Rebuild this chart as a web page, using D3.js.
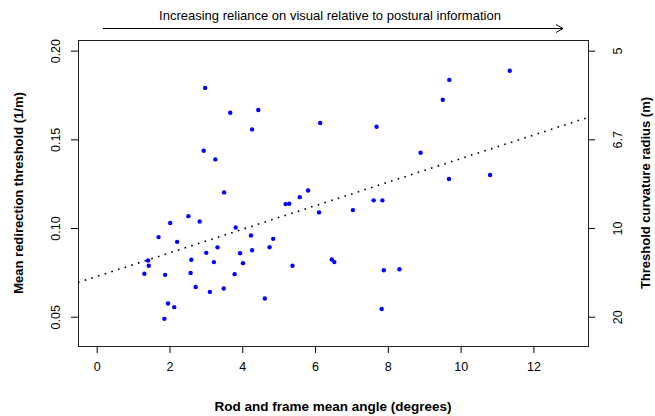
<!DOCTYPE html>
<html>
<head>
<meta charset="utf-8">
<script src="https://cdn.jsdelivr.net/npm/d3@7"></script>
<style>
  body { margin: 0; background: #fff; }
  svg { font-family: "Liberation Sans", Arial, sans-serif; }
</style>
</head>
<body>
<div class="chartContainer"></div>
<script>
// Data
var rodAngle = [2.98, 3.67, 4.44, 4.27, 2.94, 3.26, 3.50, 2.52, 2.83, 2.02,
  3.82, 1.70, 4.24, 2.21, 4.85, 4.75, 4.27, 3.01, 3.32, 3.94,
  1.41, 2.60, 1.43, 3.22, 4.02, 1.31, 1.88, 2.58, 3.79, 2.72,
  3.11, 3.49, 4.62, 1.96, 2.13, 1.86, 6.14, 7.69, 9.69, 9.51,
  8.90, 9.68, 5.81, 11.35, 10.81, 5.58, 5.19, 5.29, 6.11, 7.04,
  7.61, 7.85, 5.38, 6.46, 6.53, 7.89, 8.32, 7.83];
var threshold = [0.179, 0.165, 0.1665, 0.1556, 0.1436, 0.1387, 0.1201, 0.1067, 0.1037, 0.1028,
  0.1003, 0.0949, 0.0958, 0.0922, 0.0939, 0.0892, 0.0875, 0.0860, 0.0891, 0.0858,
  0.0817, 0.0821, 0.0787, 0.0808, 0.0802, 0.0742, 0.0736, 0.0747, 0.0740, 0.0668,
  0.0640, 0.0659, 0.0603, 0.0575, 0.0554, 0.0488, 0.1592, 0.1571, 0.1835, 0.1723,
  0.1424, 0.1276, 0.1212, 0.1887, 0.1299, 0.1174, 0.1135, 0.1137, 0.1088, 0.1101,
  0.1156, 0.1156, 0.0787, 0.0823, 0.0808, 0.0762, 0.0768, 0.0544];
var fitLine = [0.0727, 0.00664]; // intercept, slope
var xTicks = [0, 2, 4, 6, 8, 10, 12];
var yTicks = [0.05, 0.10, 0.15, 0.20];
var yTickLabels = ["0.05", "0.10", "0.15", "0.20"];
var radiusTicks = [0.2, 0.15, 0.1, 0.05];
var radiusLabels = ["5", "6.7", "10", "20"];

const W = 655;
const H = 416;
const M = { left: 78, right: 588, top: 40, bottom: 346 };

const svg = d3
  .select(".chartContainer")
  .append("svg")
  .attr("width", W)
  .attr("height", H);

var x = d3.scaleLinear().domain([-0.514, 13.5]).range([M.left, M.right]);
var y = d3.scaleLinear().domain([0.0335, 0.206]).range([M.bottom, M.top]);

// Bottom axis
var gx = svg
  .append("g")
  .attr("transform", "translate(0," + M.bottom + ")")
  .call(d3.axisBottom(x).tickValues(xTicks).tickSize(7).tickPadding(9).tickFormat(d3.format("d")));
gx.select(".domain").remove();
gx.selectAll("text").style("font-size", "12.5px").attr("fill", "#000");

// Left axis, labels rotated
var gy = svg
  .append("g")
  .attr("transform", "translate(" + M.left + ",0)")
  .call(d3.axisLeft(y).tickValues(yTicks).tickSize(7).tickFormat((d, i) => yTickLabels[i]));
gy.select(".domain").remove();
gy.selectAll("text")
  .attr("x", 0)
  .attr("y", -18)
  .attr("dy", 0)
  .attr("text-anchor", "middle")
  .attr("transform", "rotate(-90)")
  .style("font-size", "12.5px")
  .attr("fill", "#000");

// Right axis: curvature radius = 1 / threshold
var gr = svg
  .append("g")
  .attr("transform", "translate(" + M.right + ",0)")
  .call(d3.axisRight(y).tickValues(radiusTicks).tickSize(7).tickFormat((d, i) => radiusLabels[i]));
gr.select(".domain").remove();
gr.selectAll("text")
  .attr("x", 0)
  .attr("y", 34)
  .attr("dy", 0)
  .attr("text-anchor", "middle")
  .attr("transform", "rotate(-90)")
  .style("font-size", "12.5px")
  .attr("fill", "#000");

// Plot box
svg
  .append("rect")
  .attr("x", M.left + 0.5)
  .attr("y", M.top + 0.5)
  .attr("width", M.right - M.left)
  .attr("height", M.bottom - M.top)
  .attr("fill", "none")
  .attr("stroke", "#222")
  .attr("stroke-width", 1);

// Regression line (dotted), clipped to box
svg
  .append("clipPath")
  .attr("id", "clip")
  .append("rect")
  .attr("x", M.left)
  .attr("y", M.top)
  .attr("width", M.right - M.left)
  .attr("height", M.bottom - M.top);

var xd = x.domain();
svg
  .append("line")
  .attr("clip-path", "url(#clip)")
  .attr("x1", x(xd[0]))
  .attr("y1", y(fitLine[0] + fitLine[1] * xd[0]))
  .attr("x2", x(xd[1]))
  .attr("y2", y(fitLine[0] + fitLine[1] * xd[1]))
  .attr("stroke", "#000")
  .attr("stroke-width", 1.6)
  .attr("stroke-dasharray", "1.6,5.4");

// Points
svg
  .append("g")
  .selectAll("circle")
  .data(rodAngle)
  .enter()
  .append("circle")
  .attr("cx", (d) => x(d))
  .attr("cy", (d, i) => y(threshold[i]))
  .attr("r", 2.2)
  .attr("fill", "#0000ff");

// Axis titles
svg
  .append("text")
  .attr("x", (M.left + M.right) / 2)
  .attr("y", 411)
  .attr("text-anchor", "middle")
  .style("font-size", "13.5px")
  .style("font-weight", "bold")
  .text("Rod and frame mean angle (degrees)");

svg
  .append("text")
  .attr("transform", "translate(23," + (M.top + M.bottom) / 2 + ") rotate(-90)")
  .attr("text-anchor", "middle")
  .style("font-size", "13px")
  .style("font-weight", "bold")
  .text("Mean redirection threshold (1/m)");

svg
  .append("text")
  .attr("transform", "translate(650," + (M.top + M.bottom) / 2 + ") rotate(-90)")
  .attr("text-anchor", "middle")
  .style("font-size", "13px")
  .style("font-weight", "bold")
  .text("Threshold curvature radius (m)");

// Top annotation arrow
svg
  .append("text")
  .attr("x", 330)
  .attr("y", 20)
  .attr("text-anchor", "middle")
  .style("font-size", "13px")
  .text("Increasing reliance on visual relative to postural information");

svg
  .append("line")
  .attr("x1", 103)
  .attr("y1", 28.5)
  .attr("x2", 563)
  .attr("y2", 28.5)
  .attr("stroke", "#000")
  .attr("stroke-width", 1);

svg
  .append("path")
  .attr("d", "M556,24.5L563,28.5L556,32.5")
  .attr("fill", "none")
  .attr("stroke", "#000")
  .attr("stroke-width", 1);
</script>
</body>
</html>
